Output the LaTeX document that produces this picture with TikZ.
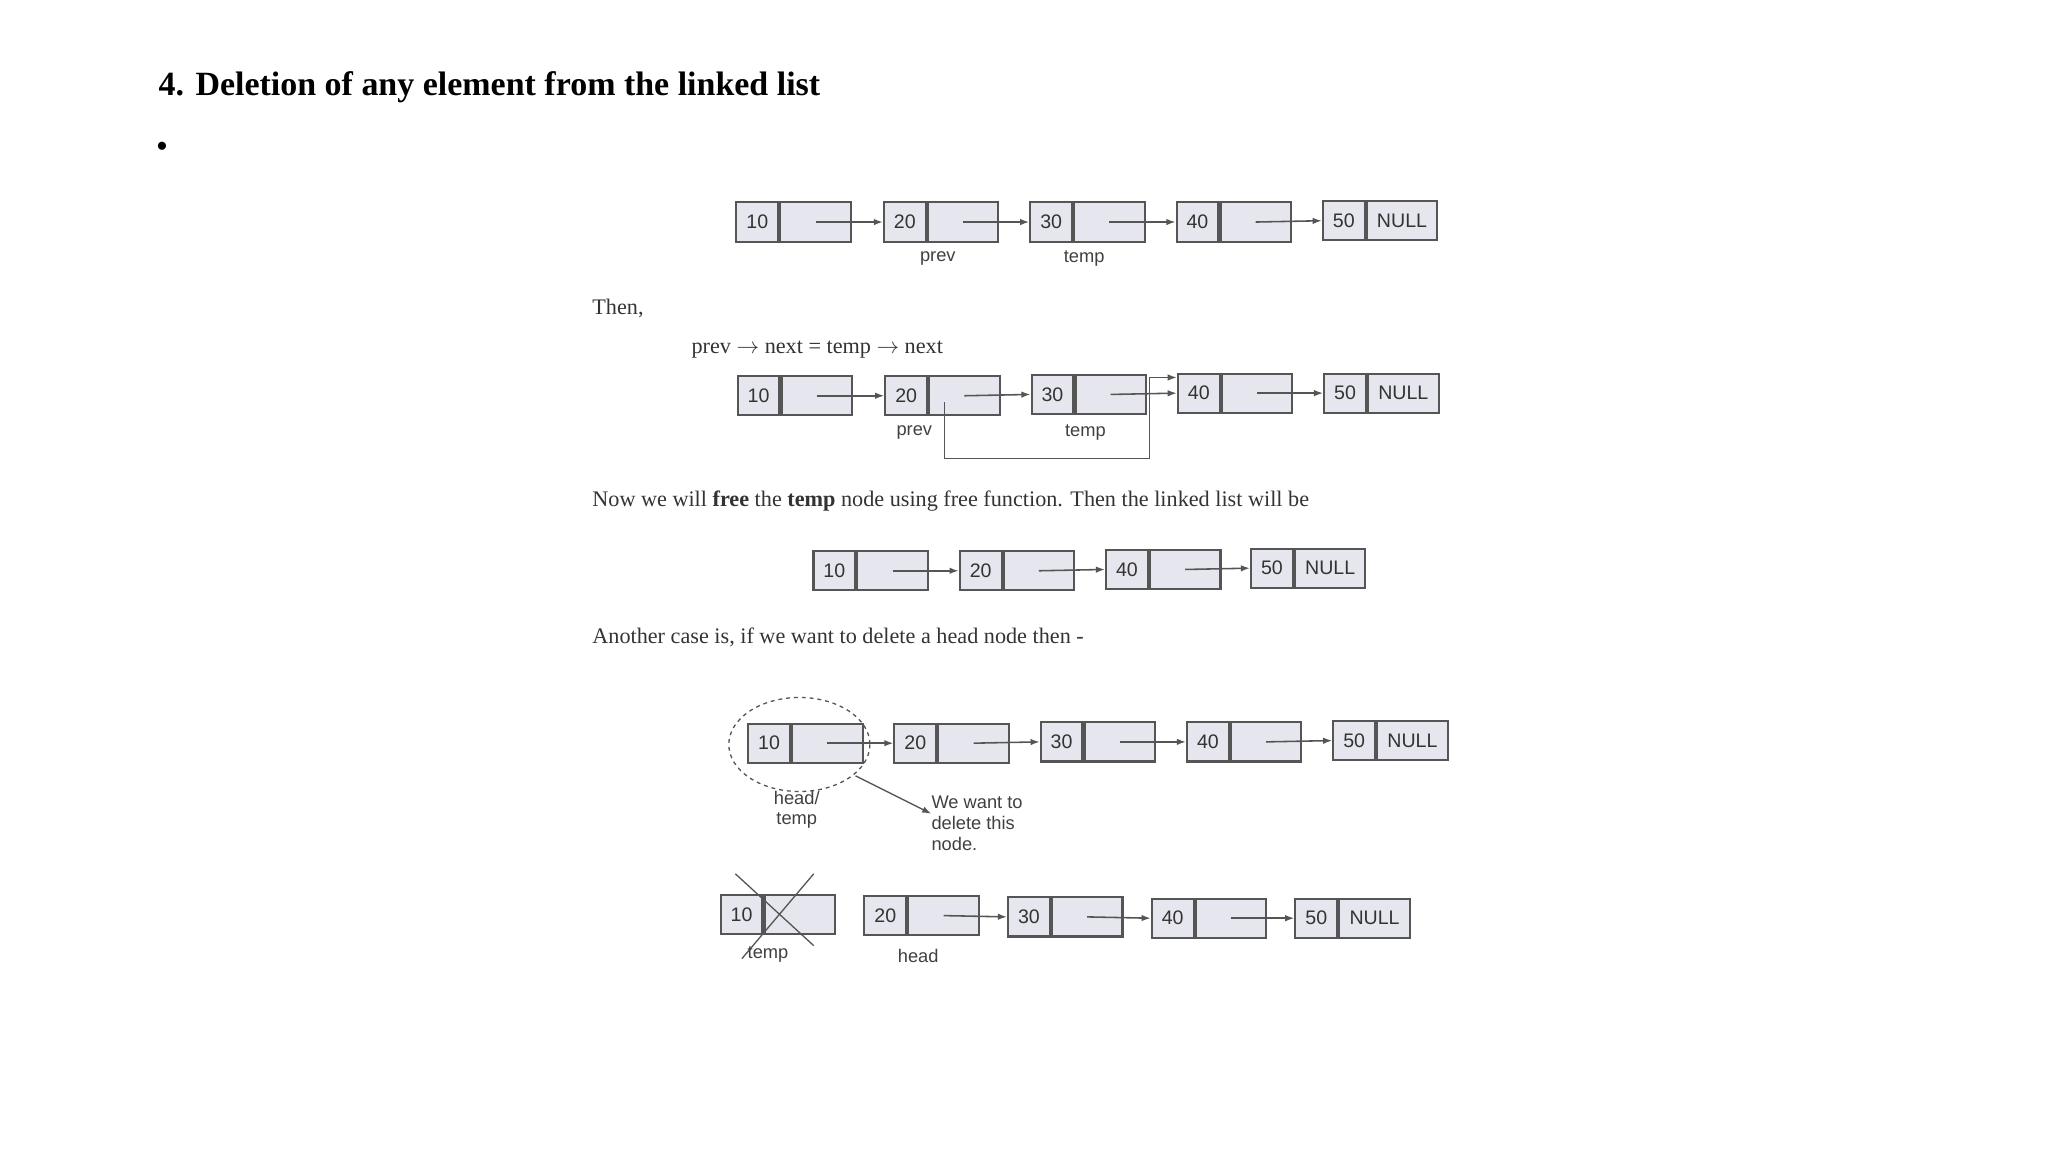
\documentclass[tikz,border=0pt]{standalone}
\usepackage{fontspec}
\setmainfont{Liberation Serif}
\setsansfont{Liberation Sans}
\usetikzlibrary{arrows.meta}
\definecolor{cellc}{HTML}{E6E6EE}
\definecolor{lnc}{HTML}{555555}
\tikzset{
 dcell/.style={draw=lnc,line width=1.6pt,fill=cellc,minimum width=32pt,minimum height=30pt,inner sep=0pt,anchor=west,font=\sffamily\fontsize{15}{15}\selectfont,text=black!80},
 pcell/.style={dcell,minimum width=54pt},
 arr/.style={draw=lnc,line width=1.2pt,-{Latex[length=7pt,width=5pt]}},
 lbl/.style={font=\sffamily\fontsize{14}{16}\selectfont,text=black!75,align=left},
 body/.style={font=\fontsize{17}{20}\selectfont,text=black!80,anchor=west}
}
\newcommand{\LLnode}[5]{\node[dcell] (#1) at (#2,#3) {#4}; \node[pcell] (#1p) at (#1.east) {#5};}
\begin{document}
\begin{tikzpicture}[x=1pt,y=-1pt]
\useasboundingbox (0,0) rectangle (1568,882);
\node[anchor=west,font=\bfseries\fontsize{26}{28}\selectfont] (title) at (118,67) {4. Deletion of any element from the linked list};
\node[anchor=west,font=\fontsize{26}{28}\selectfont] (bul) at (116,115) {•};
% row 1
\LLnode{a1}{563}{170}{10}{}
\LLnode{a2}{676}{170}{20}{}
\LLnode{a3}{788}{170}{30}{}
\LLnode{a4}{900}{170}{40}{}
\LLnode{a5}{1012}{169}{50}{NULL}
\foreach \i/\j in {1/2,2/3,3/4,4/5}{\draw[arr] (a\i p.center) -- (a\j.west);}
\node[lbl] (l1) at (718,198) {prev};
\node[lbl] (l2) at (830,198) {temp};
\node[body] (then) at (450,236) {Then,};
\node[body] (eq) at (526,268) {prev $\rightarrow$ next = temp $\rightarrow$ next};
% row 2
\LLnode{b1}{564}{303}{10}{}
\LLnode{b2}{677}{303}{20}{}
\LLnode{b3}{789}{302}{30}{}
\LLnode{b4}{901}{301}{40}{}
\LLnode{b5}{1013}{301}{50}{NULL}
\foreach \i/\j in {1/2,2/3,3/4,4/5}{\draw[arr] (b\i p.center) -- (b\j.west);}
\coordinate (bs) at (723,308);
\coordinate (bt) at ([yshift=12pt]b4.west);
\draw[arr] (bs) |- (880,351) |- (bt);
\node[lbl] (l3) at (700,331) {prev};
\node[lbl] (l4) at (831,331) {temp};
\node[body] (now) at (450,384) {Now we will \textbf{free} the \textbf{temp} node using free function. Then the linked list will be};
% row 3
\LLnode{c1}{622}{437}{10}{}
\LLnode{c2}{734}{437}{20}{}
\LLnode{c3}{846}{436}{40}{}
\LLnode{c4}{957}{435}{50}{NULL}
\foreach \i/\j in {1/2,2/3,3/4}{\draw[arr] (c\i p.center) -- (c\j.west);}
\node[body] (ano) at (450,488) {Another case is, if we want to delete a head node then -};
% row 4
\LLnode{d1}{572}{569}{10}{}
\LLnode{d2}{684}{569}{20}{}
\LLnode{d3}{796}{568}{30}{}
\LLnode{d4}{908}{568}{40}{}
\LLnode{d5}{1020}{567}{50}{NULL}
\foreach \i/\j in {1/2,2/3,3/4,4/5}{\draw[arr] (d\i p.center) -- (d\j.west);}
\draw[lnc,dashed,line width=1pt] (612,570) ellipse [x radius=54,y radius=36];
\node[lbl,align=center,inner sep=0pt] (ht) at (610,620) {head/\\temp};
\coordinate (ea) at (655,594);
\node[lbl,anchor=north west,inner sep=0pt] (want) at (713,609) {We want to\\delete this\\node.};
\draw[arr,line width=1pt] (ea) -- ([yshift=-14pt]want.north west);
% row 5
\LLnode{e1}{551}{700}{10}{}
\LLnode{e2}{661}{701}{20}{}
\LLnode{e3}{771}{702}{30}{}
\LLnode{e4}{881}{703}{40}{}
\LLnode{e5}{991}{703}{50}{NULL}
\foreach \i/\j in {2/3,3/4,4/5}{\draw[arr] (e\i p.center) -- (e\j.west);}
\draw[lnc,line width=1pt] (563,669) -- (623,724);
\draw[lnc,line width=1pt] (623,669) -- (568,734);
\node[lbl] (l5) at (588,731) {temp};
\node[lbl] (l6) at (703,732) {head};
\end{tikzpicture}
\end{document}
